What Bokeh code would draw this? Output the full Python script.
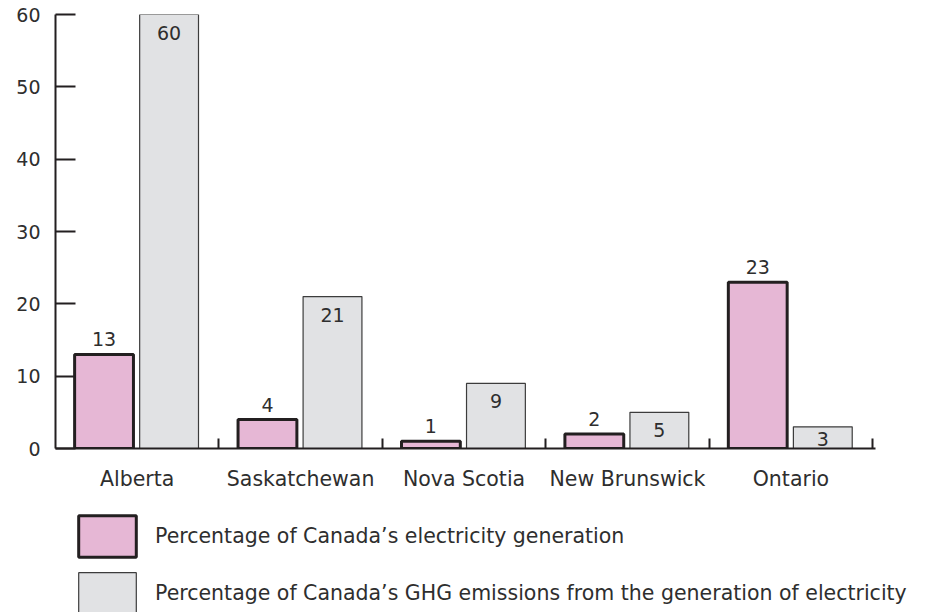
from bokeh.plotting import figure
from bokeh.layouts import column
from bokeh.models import (Range1d, LinearAxis, FixedTicker, ColumnDataSource,
                          Legend, LegendItem, LabelSet)
from bokeh.transform import dodge
from bokeh.core.properties import value
from bokeh.embed import file_html
from bokeh.resources import INLINE

# ---- data ----
categories = ["Alberta", "Saskatchewan", "Nova Scotia", "New Brunswick", "Ontario"]
electricity_share = [13, 4, 1, 2, 23]
ghg_share = [60, 21, 9, 5, 3]
y_ticks = [0, 10, 20, 30, 40, 50, 60]
series_labels = ["Percentage of Canada\u2019s electricity generation",
                 "Percentage of Canada\u2019s GHG emissions from the generation of electricity"]

FONT = "DejaVu Sans"
TXT = "#2e2e2e"
AX = "#231f20"
PINK = "#e6b7d5"
GREY = "#e1e2e4"
FRAME_H = 434
N = len(categories)

centers = [i + 0.5 for i in range(N)]
px_per_unit = FRAME_H / max(y_ticks)
# inside-bar label offset: shrink for short bars so the number stays inside
ghg_off = [-min(11, v * px_per_unit - 17) for v in ghg_share]

src = ColumnDataSource(dict(
    x=centers,
    elec=electricity_share,
    ghg=ghg_share,
    elec_txt=[str(v) for v in electricity_share],
    ghg_txt=[str(v) for v in ghg_share],
    ghg_off=ghg_off,
))

p = figure(width=928, height=508, output_backend="svg", toolbar_location=None,
           x_range=Range1d(0, N + 0.25), y_range=Range1d(0, max(y_ticks)),
           x_axis_type=None, y_axis_type=None,
           min_border_left=55, min_border_right=15, min_border_top=14, min_border_bottom=60)
p.outline_line_color = None
p.xgrid.visible = False
p.ygrid.visible = False

# y axis
yax = LinearAxis(ticker=FixedTicker(ticks=y_ticks))
yax.axis_line_color = AX
yax.axis_line_width = 2
yax.major_tick_line_color = AX
yax.major_tick_line_width = 2
yax.major_tick_in = 20
yax.major_tick_out = 0
yax.minor_tick_line_color = None
yax.major_label_standoff = 15
yax.major_label_text_font = FONT
yax.major_label_text_font_size = "19px"
yax.major_label_text_color = TXT
p.add_layout(yax, "left")

# x axis (category separators as minor ticks)
xax = LinearAxis(ticker=FixedTicker(ticks=centers, minor_ticks=[i + 1 for i in range(N)]),
                 bounds=(0, N + 0.02))
xax.major_label_overrides = {c: n for c, n in zip(centers, categories)}
xax.axis_line_color = AX
xax.axis_line_width = 2
xax.major_tick_line_color = None
xax.major_tick_in = 0
xax.major_tick_out = 0
xax.minor_tick_line_color = AX
xax.minor_tick_line_width = 2
xax.minor_tick_in = 10
xax.minor_tick_out = 0
xax.major_label_standoff = 18
xax.major_label_text_font = FONT
xax.major_label_text_font_size = "20.5px"
xax.major_label_text_color = TXT
p.add_layout(xax, "below")

bw = 0.36
elec_style = dict(fill_color=PINK, line_color=AX, line_width=3)
ghg_style = dict(fill_color=GREY, line_color="#3c3c3c", line_width=1.2)
p.vbar(x=dodge("x", -0.203, range=p.x_range), top="elec", width=bw, source=src, **elec_style)
p.vbar(x=dodge("x", 0.195, range=p.x_range), top="ghg", width=bw, source=src, **ghg_style)

lab_e = LabelSet(x=dodge("x", -0.203, range=p.x_range), y="elec", text="elec_txt", source=src,
                 text_align="center", text_baseline="alphabetic", y_offset=8,
                 text_font=value(FONT), text_font_size="19px", text_color=TXT)
lab_g = LabelSet(x=dodge("x", 0.195, range=p.x_range), y="ghg", text="ghg_txt", source=src,
                 text_align="center", text_baseline="top", y_offset="ghg_off",
                 text_font=value(FONT), text_font_size="19px", text_color=TXT)
p.add_layout(lab_e)
p.add_layout(lab_g)

# ---- legend strip (its keys copy the bar styles; the renderers themselves stay hidden) ----
lf = figure(width=928, height=104, output_backend="svg", toolbar_location=None,
            x_range=p.x_range, y_range=p.y_range, x_axis_type=None, y_axis_type=None,
            min_border_left=55, min_border_right=15, min_border_top=0, min_border_bottom=0)
lf.outline_line_color = None
lf.xgrid.visible = False
lf.ygrid.visible = False
r1 = lf.vbar(x="x", top="elec", width=bw, source=src, visible=False, **elec_style)
r2 = lf.vbar(x="x", top="ghg", width=bw, source=src, visible=False, **ghg_style)
legend = Legend(items=[LegendItem(label=series_labels[0], renderers=[r1]),
                       LegendItem(label=series_labels[1], renderers=[r2])],
                location=(16, -7), orientation="vertical", click_policy="none",
                glyph_width=72, glyph_height=52, label_standoff=12, spacing=5,
                padding=0, margin=0, border_line_color=None, background_fill_alpha=0,
                label_text_font=FONT, label_text_font_size="20.5px", label_text_color=TXT)
lf.add_layout(legend, "center")

open("out.html", "w").write(file_html(column(p, lf, spacing=0), INLINE))
